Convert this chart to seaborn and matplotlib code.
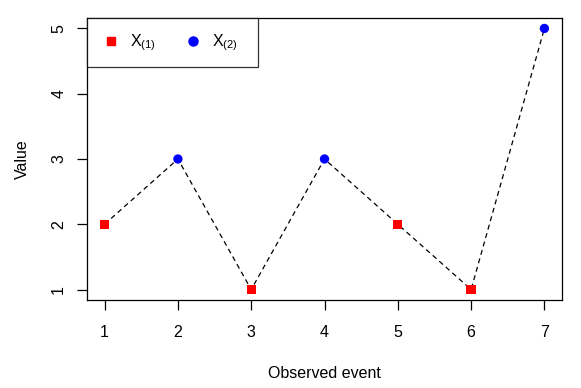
import matplotlib
matplotlib.use("Agg")
import matplotlib.pyplot as plt
import seaborn as sns
import pandas as pd
from matplotlib.lines import Line2D

events = [1, 2, 3, 4, 5, 6, 7]
values = [2, 3, 1, 3, 2, 1, 5]
groups = ["X1", "X2", "X1", "X2", "X1", "X1", "X2"]
group_labels = {"X1": r"$\mathregular{X_{(1)}}$", "X2": r"$\mathregular{X_{(2)}}$"}
xticks = [1, 2, 3, 4, 5, 6, 7]
yticks = [1, 2, 3, 4, 5]

df = pd.DataFrame({"event": events, "value": values, "group": groups})

sns.set_style("ticks")
plt.rcParams["font.family"] = ["Liberation Sans", "DejaVu Sans"]
plt.rcParams["mathtext.fontset"] = "custom"
plt.rcParams["mathtext.rm"] = "Liberation Sans"
plt.rcParams["mathtext.it"] = "Liberation Sans"
plt.rcParams["text.color"] = "black"
plt.rcParams["axes.labelcolor"] = "black"
plt.rcParams["xtick.color"] = "black"
plt.rcParams["ytick.color"] = "black"

fig = plt.figure(figsize=(5.81, 3.88), dpi=100)
ax = fig.add_axes([87/581, 1-300/388, (562-87)/581, (300-18)/388])

sns.lineplot(data=df, x="event", y="value", ax=ax, color="black",
             linestyle=(0, (4, 3)), linewidth=0.9, legend=False, zorder=1)
sns.scatterplot(data=df, x="event", y="value", hue="group", style="group",
                palette={"X1": "#ff0000", "X2": "#0000ff"},
                markers={"X1": "s", "X2": "o"}, s=45, edgecolor="none",
                ax=ax, zorder=2, legend=False)

ax.set_xlim(0.76, 7.24)
ax.set_ylim(0.84, 5.16)
ax.set_xticks(xticks)
ax.set_yticks(yticks)
ax.set_xticklabels([str(t) for t in xticks], fontsize=11.5)
ax.set_yticklabels([str(t) for t in yticks], fontsize=11.5, rotation=90, va="center")
ax.tick_params(axis="x", direction="out", length=7, width=0.9, color="black", pad=11)
ax.tick_params(axis="y", direction="out", length=7, width=0.9, color="black", pad=8)
ax.set_xlabel("Observed event", fontsize=11.5, labelpad=19)
ax.set_ylabel("Value", fontsize=11.5, labelpad=15)
for sp in ax.spines.values():
    sp.set_visible(True)
    sp.set_color("black")
    sp.set_linewidth(0.9)

handles = [Line2D([], [], marker="s", color="#ff0000", linestyle="none", markersize=6),
           Line2D([], [], marker="o", color="#0000ff", linestyle="none", markersize=6.5)]
leg = ax.legend(handles, [group_labels["X1"], group_labels["X2"] + "  "], ncol=2,
                loc="upper left", bbox_to_anchor=(0, 1), borderaxespad=0,
                frameon=True, fancybox=False, fontsize=11.5, handlelength=1.2,
                handletextpad=0.6, columnspacing=1.7, borderpad=0.9)
leg.get_frame().set_edgecolor("black")
leg.get_frame().set_linewidth(0.9)

fig.savefig("out.png", dpi=100)
